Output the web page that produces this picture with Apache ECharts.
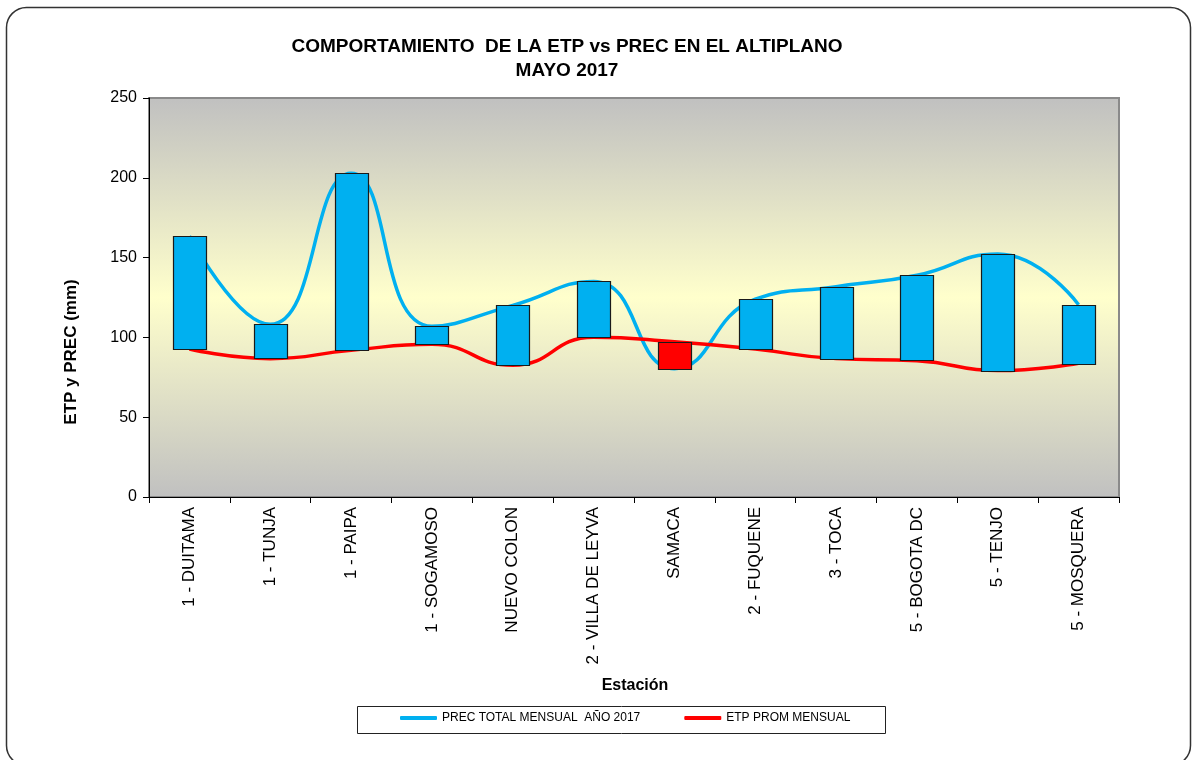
<!DOCTYPE html>
<html>
<head>
<meta charset="utf-8">
<script src="https://cdn.jsdelivr.net/npm/echarts@6/dist/echarts.min.js"></script>
<style>html,body{margin:0;padding:0;background:#fff;}#c{width:1192px;height:760px;}</style>
</head>
<body>
<div id="c"></div>
<script>
var categories = ['1 - DUITAMA','1 - TUNJA','1 - PAIPA','1 - SOGAMOSO','NUEVO COLON','2 - VILLA DE LEYVA','SAMACA','2 - FUQUENE','3 - TOCA','5 - BOGOTA DC','5 - TENJO','5 - MOSQUERA'];
var prec = [163.5, 108.2, 202.8, 107.0, 120.1, 135.1, 80.4, 123.9, 131.8, 138.9, 152.3, 120.5];
var etp  = [92.7, 86.7, 91.9, 95.7, 82.5, 100.1, 97.3, 92.7, 86.7, 85.4, 79.2, 83.8];
var yTicks = [0, 50, 100, 150, 200, 250];
var titleText = 'COMPORTAMIENTO  DE LA ETP vs PREC EN EL ALTIPLANO\nMAYO 2017';
var precName = 'PREC TOTAL MENSUAL  AÑO 2017';
var etpName = 'ETP PROM MENSUAL';

var FONT = "'Liberation Sans', Arial, sans-serif";
var BLUE = '#00b0f0', RED = '#ff0000';

var barData = categories.map(function (c, i) { return [i, prec[i], etp[i]]; });

var chart = echarts.init(document.getElementById('c'), null, {renderer: 'canvas'});
chart.setOption({
  animation: false,
  backgroundColor: '#ffffff',
  title: {
    text: titleText,
    left: 562, top: 30, textAlign: 'center',
    textStyle: {fontFamily: FONT, fontSize: 19, fontWeight: 'bold', color: '#000', lineHeight: 24}
  },
  grid: {
    left: 149, right: 73, top: 98, bottom: 263,
    show: true, borderColor: '#8a8a8a', borderWidth: 2,
    backgroundColor: {
      type: 'linear', x: 0, y: 0, x2: 0, y2: 1,
      colorStops: [
        {offset: 0, color: '#c0c0c0'},
        {offset: 0.5, color: '#ffffcc'},
        {offset: 1, color: '#c0c0c0'}
      ]
    }
  },
  legend: {
    left: 400, top: 712, padding: 0, itemGap: 44, itemWidth: 37, itemHeight: 4,
    icon: 'roundRect',
    textStyle: {fontFamily: FONT, fontSize: 12, color: '#000'},
    data: [precName, etpName]
  },
  xAxis: {
    type: 'category', data: categories, boundaryGap: true,
    axisLine: {lineStyle: {color: '#000', width: 1}},
    axisTick: {show: true, length: 6, lineStyle: {color: '#000'}},
    axisLabel: {rotate: 90, margin: 10, fontFamily: FONT, fontSize: 17, color: '#000', interval: 0},
    splitLine: {show: false}
  },
  yAxis: {
    type: 'value', min: yTicks[0], max: yTicks[yTicks.length - 1], interval: 50,
    axisLine: {show: true, lineStyle: {color: '#000', width: 1}},
    axisTick: {show: true, length: 6, lineStyle: {color: '#000'}},
    axisLabel: {margin: 12, fontFamily: FONT, fontSize: 16, color: '#000'},
    splitLine: {show: false}
  },
  graphic: [
    {type: 'rect', z: -10, silent: true, shape: {x: 6.5, y: 7.5, width: 1184, height: 758, r: 20},
      style: {fill: 'none', stroke: '#333', lineWidth: 1.5}},
    {type: 'text', x: 71, y: 352, rotation: Math.PI / 2, silent: true,
      style: {text: 'ETP y PREC (mm)', font: 'bold 17px ' + FONT, fill: '#000', align: 'center', verticalAlign: 'middle'}},
    {type: 'text', x: 635, y: 686, silent: true,
      style: {text: 'Estación', font: 'bold 16px ' + FONT, fill: '#000', align: 'center', verticalAlign: 'middle'}},
    {type: 'rect', silent: true, shape: {x: 357.5, y: 706.5, width: 528, height: 27},
      style: {fill: 'none', stroke: '#222', lineWidth: 1}}
  ],
  series: [
    {
      name: precName, type: 'line', data: prec, smooth: 0.5, symbol: 'none', z: 2,
      lineStyle: {color: BLUE, width: 3.5}, itemStyle: {color: BLUE}
    },
    {
      name: etpName, type: 'line', data: etp, smooth: 0.5, symbol: 'none', z: 2,
      lineStyle: {color: RED, width: 3.5}, itemStyle: {color: RED}
    },
    {
      type: 'custom', z: 5, data: barData,
      renderItem: function (params, api) {
        var i = api.value(0);
        var p1 = api.coord([i, api.value(1)]);
        var p2 = api.coord([i, api.value(2)]);
        var w = api.size([1, 0])[0] * 0.41;
        var top = Math.min(p1[1], p2[1]);
        var h = Math.abs(p1[1] - p2[1]);
        return {
          type: 'rect',
          shape: {x: Math.round(p1[0] - w / 2) + 0.5, y: Math.round(top) + 0.5, width: Math.round(w), height: Math.round(h)},
          style: {fill: api.value(1) >= api.value(2) ? BLUE : RED, stroke: '#1a1a1a', lineWidth: 1.2}
        };
      }
    }
  ]
});
</script>
</body>
</html>
